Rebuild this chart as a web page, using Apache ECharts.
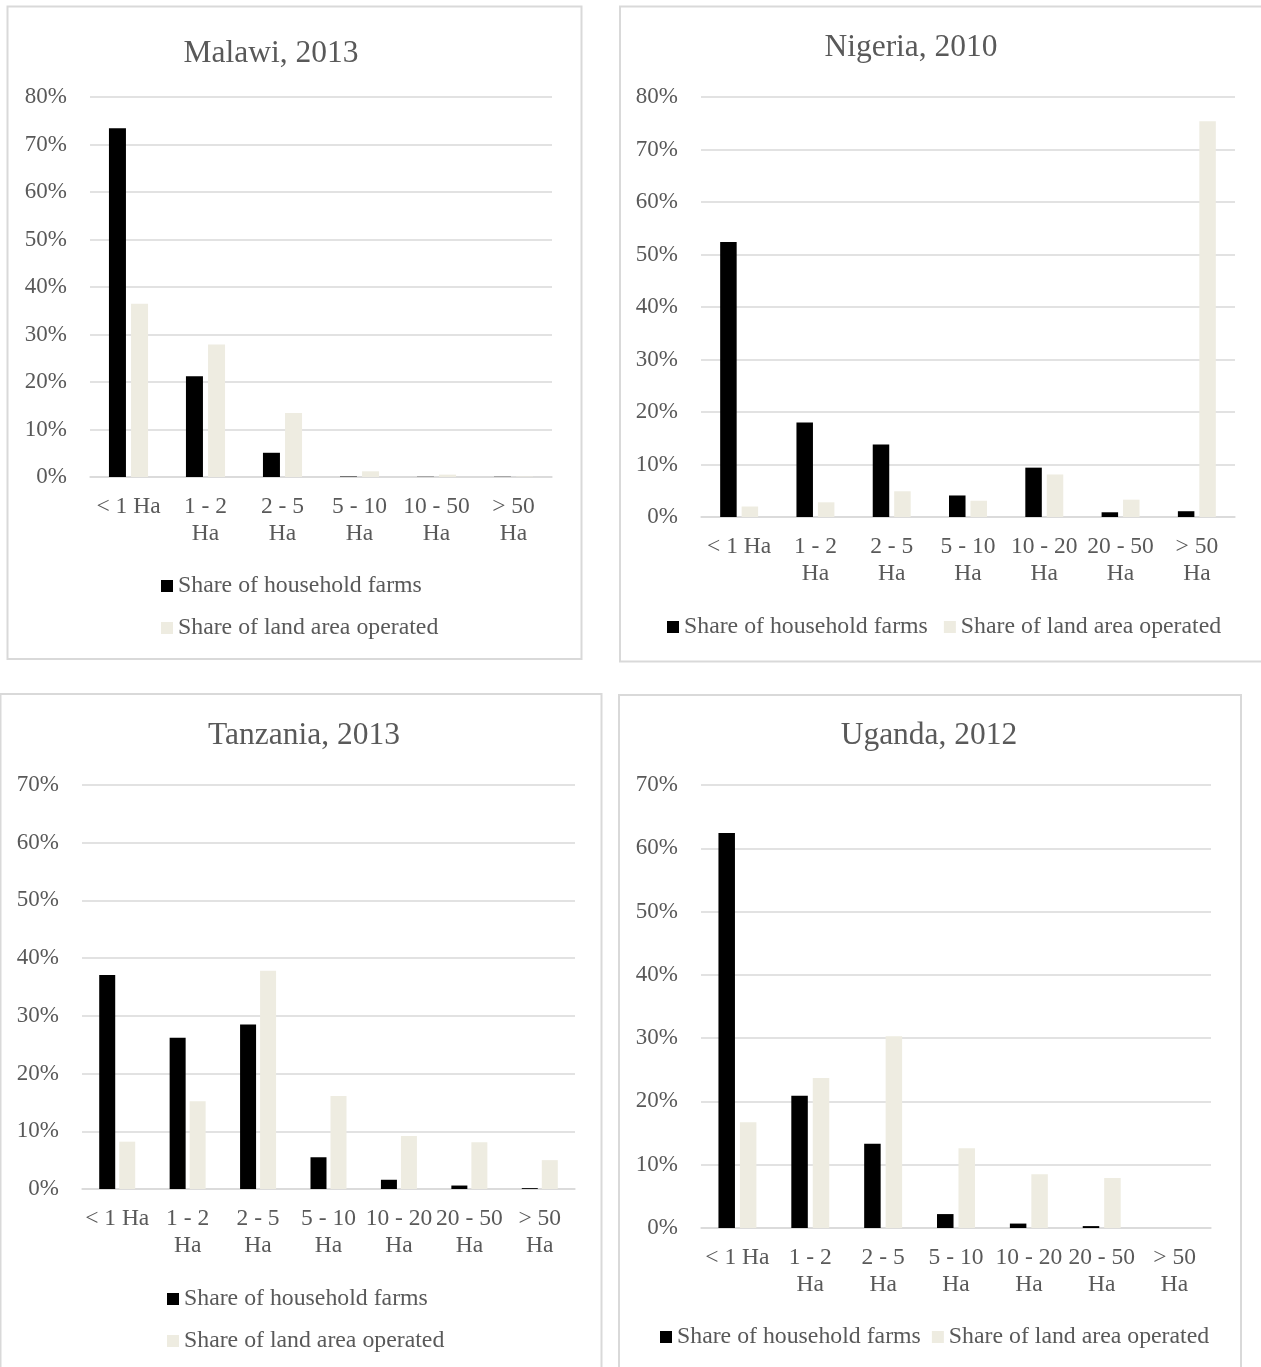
<!DOCTYPE html>
<html>
<head>
<meta charset="utf-8">
<script src="https://cdn.jsdelivr.net/npm/echarts@6/dist/echarts.min.js"></script>
<style>
html,body{margin:0;padding:0;background:#fff;}
#c{width:1261px;height:1367px;}
</style>
</head>
<body>
<div id="c"></div>
<script>
// ---- data ----
const cats6 = ['< 1 Ha', '1 - 2\nHa', '2 - 5\nHa', '5 - 10\nHa', '10 - 50\nHa', '> 50\nHa'];
const cats7 = ['< 1 Ha', '1 - 2\nHa', '2 - 5\nHa', '5 - 10\nHa', '10 - 20\nHa', '20 - 50\nHa', '> 50\nHa'];
const seriesNames = ['Share of household farms', 'Share of land area operated'];
const titles = ['Malawi, 2013', 'Nigeria, 2010', 'Tanzania, 2013', 'Uganda, 2012'];

const malawiFarms = [73.4, 21.2, 5.1, 0.1, 0.05, 0.05];
const malawiLand  = [36.5, 27.9, 13.5, 1.2, 0.5, 0.1];
const nigeriaFarms = [52.4, 18.0, 13.8, 4.1, 9.4, 0.9, 1.1];
const nigeriaLand  = [2.0, 2.8, 4.9, 3.1, 8.1, 3.3, 75.4];
const tanzaniaFarms = [37.1, 26.2, 28.5, 5.5, 1.6, 0.6, 0.15];
const tanzaniaLand  = [8.2, 15.2, 37.8, 16.1, 9.2, 8.1, 5.0];
const ugandaFarms = [62.4, 20.9, 13.3, 2.2, 0.7, 0.3, 0];
const ugandaLand  = [16.7, 23.7, 30.3, 12.6, 8.5, 7.9, 0];

const yMax = [80, 80, 70, 70];

// ---- styling / layout ----
const FONT = '"Liberation Serif", "Times New Roman", serif';
const TXT = '#595959';
const GRIDC = '#d9d9d9';
const DARK = '#000000';
const LIGHT = '#EEECE1';

const panels = [
  {cats: cats6, farms: malawiFarms, land: malawiLand,
   grid: {left: 90, top: 97, width: 462, height: 380},
   title: {x: 271, y: 54}, bar: 17, gap: '30%',
   legend: {left: 161, top: 574, orient: 'vertical', itemGap: 18}},
  {cats: cats7, farms: nigeriaFarms, land: nigeriaLand,
   grid: {left: 701, top: 97, width: 534, height: 420},
   title: {x: 911, y: 48}, bar: 16.5, gap: '30%',
   legend: {left: 667, top: 615, orient: 'horizontal', itemGap: 16}},
  {cats: cats7, farms: tanzaniaFarms, land: tanzaniaLand,
   grid: {left: 82, top: 785, width: 493, height: 404},
   title: {x: 304, y: 736}, bar: 16, gap: '25%',
   legend: {left: 167, top: 1287, orient: 'vertical', itemGap: 18}},
  {cats: cats7, farms: ugandaFarms, land: ugandaLand,
   grid: {left: 701, top: 785, width: 510, height: 443},
   title: {x: 929, y: 736}, bar: 16.5, gap: '30%',
   legend: {left: 660, top: 1325, orient: 'horizontal', itemGap: 11}}
];

const option = {
  animation: false,
  backgroundColor: '#ffffff',
  textStyle: {fontFamily: FONT, color: TXT},
  title: [], grid: [], xAxis: [], yAxis: [], series: [], legend: [],
  graphic: [
    {type: 'rect', shape: {x: 7.5, y: 6.5, width: 574, height: 652.5}, style: {fill: 'none', stroke: GRIDC, lineWidth: 2}, silent: true},
    {type: 'rect', shape: {x: 620, y: 6.5, width: 680, height: 655}, style: {fill: 'none', stroke: GRIDC, lineWidth: 2}, silent: true},
    {type: 'rect', shape: {x: 0.5, y: 694, width: 601, height: 720}, style: {fill: 'none', stroke: GRIDC, lineWidth: 2}, silent: true},
    {type: 'rect', shape: {x: 619, y: 695, width: 622, height: 720}, style: {fill: 'none', stroke: GRIDC, lineWidth: 2}, silent: true}
  ]
};

panels.forEach((p, i) => {
  option.title.push({
    text: titles[i], left: p.title.x, top: p.title.y, padding: 0,
    textAlign: 'center', textVerticalAlign: 'middle',
    textStyle: {fontFamily: FONT, fontSize: 31.5, fontWeight: 'normal', color: TXT}
  });
  option.grid.push(Object.assign({containLabel: false}, p.grid));
  option.xAxis.push({
    type: 'category', gridIndex: i, data: p.cats,
    axisLine: {show: true, lineStyle: {color: GRIDC, width: 1.5}},
    axisTick: {show: false},
    axisLabel: {fontFamily: FONT, fontSize: 23.5, color: TXT, lineHeight: 27, margin: 16, interval: 0}
  });
  option.yAxis.push({
    type: 'value', gridIndex: i, min: 0, max: yMax[i], interval: 10,
    axisLine: {show: false}, axisTick: {show: false},
    splitLine: {show: true, lineStyle: {color: GRIDC, width: 1.5}},
    axisLabel: {fontFamily: FONT, fontSize: 23, color: TXT, margin: 23, formatter: '{value}%'}
  });
  option.series.push({
    type: 'bar', name: seriesNames[0], xAxisIndex: i, yAxisIndex: i,
    data: p.farms, barWidth: p.bar, barGap: p.gap,
    itemStyle: {color: DARK}
  });
  option.series.push({
    type: 'bar', name: seriesNames[1], xAxisIndex: i, yAxisIndex: i,
    data: p.land, barWidth: p.bar, barGap: p.gap,
    itemStyle: {color: LIGHT}
  });
  option.legend.push({
    data: seriesNames, left: p.legend.left, top: p.legend.top, orient: p.legend.orient,
    itemGap: p.legend.itemGap, padding: 0, icon: 'rect', itemWidth: 12, itemHeight: 12,
    selectedMode: false,
    textStyle: {fontFamily: FONT, fontSize: 23.8, color: TXT, lineHeight: 24}
  });
});

const chart = echarts.init(document.getElementById('c'), null, {renderer: 'canvas'});
chart.setOption(option);
</script>
</body>
</html>
